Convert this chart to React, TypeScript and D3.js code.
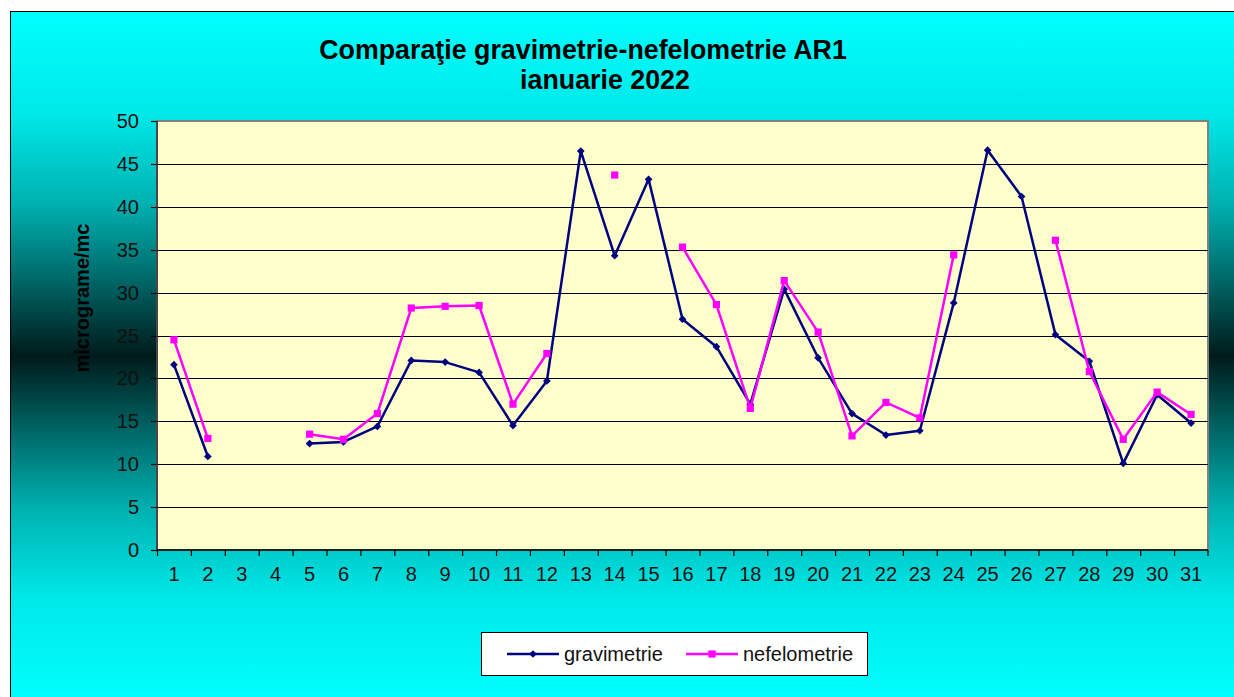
import React from 'react';
import * as d3 from 'd3';

// Daily values, January 2022 (null = no measurement)
const days = ['1', '2', '3', '4', '5', '6', '7', '8', '9', '10', '11', '12', '13', '14', '15', '16',
  '17', '18', '19', '20', '21', '22', '23', '24', '25', '26', '27', '28', '29', '30', '31'];

const gravimetrie = [21.6, 10.9, null, null, 12.4, 12.6, 14.4, 22.1, 21.9, 20.7, 14.5, 19.7, 46.5, 34.3,
  43.2, 26.9, 23.7, 17.0, 30.4, 22.4, 15.9, 13.4, 13.9, 28.8, 46.6, 41.2, 25.1, 22.0, 10.1, 18.1, 14.8];

const nefelometrie = [24.5, 13.0, null, null, 13.5, 12.9, 15.9, 28.2, 28.4, 28.5, 17.0, 22.9, null, 43.7,
  null, 35.3, 28.6, 16.5, 31.4, 25.4, 13.3, 17.2, 15.4, 34.4, null, null, 36.1, 20.8, 12.9, 18.4, 15.8];

const yTicks = [0, 5, 10, 15, 20, 25, 30, 35, 40, 45, 50];

const W = 1234;
const H = 697;
const plot = { left: 157, top: 121, right: 1208, bottom: 550 };
const font = '"Liberation Sans", Arial, sans-serif';

const App = () => {
  const x = d3.scaleBand<string>().domain(days).range([plot.left, plot.right]);
  const y = d3.scaleLinear().domain([0, 50]).range([plot.bottom, plot.top]);
  const cx = (d: string) => (x(d) as number) + x.bandwidth() / 2;

  const line = d3
    .line<number | null>()
    .defined((d) => d !== null)
    .x((_, i) => cx(days[i]))
    .y((d) => y(d as number));

  const diamond = d3.symbol(d3.symbolDiamond2 || d3.symbolDiamond, 38)();
  const square = d3.symbol(d3.symbolSquare, 52)();

  const series = [
    { name: 'gravimetrie', values: gravimetrie, color: '#000080', marker: diamond },
    { name: 'nefelometrie', values: nefelometrie, color: '#ff00ff', marker: square },
  ];

  return (
    <svg width={W} height={H} style={{ position: 'absolute', left: 0, top: 0 }} fontFamily={font}>
      <defs>
        <linearGradient id="bg" x1="0" y1="0" x2="0" y2="1">
          <stop offset="0" stopColor="#00ffff" />
          <stop offset="0.15" stopColor="#00e8e8" />
          <stop offset="0.28" stopColor="#00b0b0" />
          <stop offset="0.4" stopColor="#006060" />
          <stop offset="0.5" stopColor="#001a1a" />
          <stop offset="0.6" stopColor="#006060" />
          <stop offset="0.72" stopColor="#00b0b0" />
          <stop offset="0.85" stopColor="#00e8e8" />
          <stop offset="1" stopColor="#00ffff" />
        </linearGradient>
      </defs>
      <rect x={0} y={0} width={W} height={H} fill="#ffffff" />
      <rect x={10.5} y={11.5} width={1240} height={689} fill="url(#bg)" stroke="#000" strokeWidth={1} />

      {/* title */}
      <text x={583} y={59} textAnchor="middle" fontSize={26.8} fontWeight="bold" fill="#000">
        Comparaţie gravimetrie-nefelometrie AR1
      </text>
      <text x={605} y={89} textAnchor="middle" fontSize={26.8} fontWeight="bold" fill="#000">
        ianuarie 2022
      </text>

      {/* plot area */}
      <rect x={plot.left} y={plot.top} width={plot.right - plot.left} height={plot.bottom - plot.top}
        fill="#ffffcc" stroke="#808080" strokeWidth={2} />

      {/* gridlines + y ticks */}
      {yTicks.map((t) => (
        <g key={t}>
          {t > 0 && t < 50 && (
            <line x1={plot.left} x2={plot.right} y1={Math.round(y(t)) + 0.5} y2={Math.round(y(t)) + 0.5}
              stroke="#000" strokeWidth={1.2} />
          )}
          <line x1={plot.left - 6} x2={plot.left} y1={Math.round(y(t)) + 0.5} y2={Math.round(y(t)) + 0.5}
            stroke="#000" strokeWidth={1.2} />
          <text x={139} y={y(t) + 7} textAnchor="end" fontSize={20} fill="#111">{t}</text>
        </g>
      ))}

      {/* axes */}
      <line x1={plot.left} x2={plot.left} y1={plot.top} y2={plot.bottom} stroke="#333" strokeWidth={1.5} />
      <line x1={plot.left} x2={plot.right} y1={plot.bottom} y2={plot.bottom} stroke="#000" strokeWidth={1.5} />

      {/* x ticks */}
      {days.map((d) => (
        <line key={'t' + d} x1={(x(d) as number) + 0.5} x2={(x(d) as number) + 0.5}
          y1={plot.bottom} y2={plot.bottom + 6} stroke="#000" strokeWidth={1.2} />
      ))}
      <line x1={plot.right} x2={plot.right} y1={plot.bottom} y2={plot.bottom + 6} stroke="#000" strokeWidth={1.2} />
      {days.map((d) => (
        <text key={'l' + d} x={cx(d)} y={581} textAnchor="middle" fontSize={20} fill="#111">{d}</text>
      ))}

      {/* y axis title */}
      <text transform={`translate(89, ${plot.top + 177}) rotate(-90)`} textAnchor="middle"
        fontSize={20} fontWeight="bold" fill="#000">micrograme/mc</text>

      {/* series */}
      {series.map((s) => (
        <g key={s.name}>
          <path d={line(s.values) || ''} fill="none" stroke={s.color} strokeWidth={2.5} strokeLinejoin="round" />
          {s.values.map((v, i) =>
            v === null ? null : (
              <path key={i} d={s.marker || ''} transform={`translate(${cx(days[i])}, ${y(v)})`} fill={s.color} />
            )
          )}
        </g>
      ))}

      {/* legend */}
      <rect x={481.5} y={632.5} width={386} height={43} fill="#ffffff" stroke="#000" strokeWidth={1} />
      {series.map((s, i) => {
        const lx = 507 + i * 179;
        return (
          <g key={'lg' + s.name}>
            <line x1={lx} x2={lx + 52} y1={654} y2={654} stroke={s.color} strokeWidth={2.5} />
            <path d={s.marker || ''} transform={`translate(${lx + 26}, 654)`} fill={s.color} />
            <text x={lx + 57} y={661} fontSize={20} fill="#111">{s.name}</text>
          </g>
        );
      })}
    </svg>
  );
};

export default App;
